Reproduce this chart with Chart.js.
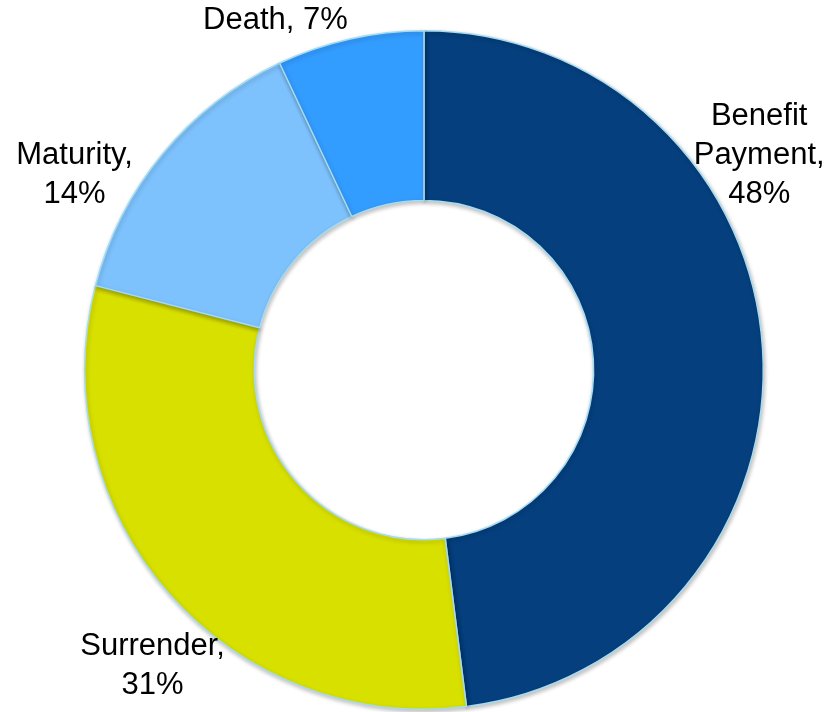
<!DOCTYPE html>
<html>
<head>
<meta charset="utf-8">
<script src="https://cdn.jsdelivr.net/npm/chart.js@4"></script>
<style>
html,body{margin:0;padding:0;background:#fff;}
#wrap{width:831px;height:712px;position:relative;}
</style>
</head>
<body>
<div id="wrap"><canvas id="c" width="831" height="712"></canvas></div>
<script>
const categories = ["Benefit Payment", "Surrender", "Maturity", "Death"];
const values = [48, 31, 14, 7];
const labelLines = [["Benefit", "Payment,", "48%"], ["Surrender,", "31%"], ["Maturity,", "14%"], ["Death, 7%"]];
const colors = ["#053F7D", "#D8E000", "#7DC2FD", "#339CFF"];

// label anchor positions as fractions of the outer radius, relative to the centre
const labelAnchors = [[0.988, -0.632], [-0.800, 0.872], [-1.030, -0.575], [-0.438, -1.030]];

const labelPlugin = {
  id: 'outLabels',
  afterDatasetsDraw(chart) {
    const meta = chart.getDatasetMeta(0);
    const ctx = chart.ctx;
    ctx.save();
    ctx.font = '31px "Liberation Sans", Arial, sans-serif';
    ctx.fillStyle = '#000';
    ctx.textAlign = 'center';
    ctx.textBaseline = 'middle';
    const lh = 39;
    meta.data.forEach((arc, i) => {
      const r = arc.outerRadius;
      const cx = arc.x + labelAnchors[i][0] * r;
      const cy = arc.y + labelAnchors[i][1] * r;
      const lines = labelLines[i];
      const y0 = cy - (lines.length - 1) * lh / 2;
      lines.forEach((t, k) => ctx.fillText(t, cx, y0 + k * lh));
    });
    ctx.restore();
  }
};

const shadowPlugin = {
  id: 'shadow',
  beforeDatasetsDraw(chart) {
    const ctx = chart.ctx;
    ctx.save();
    ctx.shadowColor = 'rgba(0,0,0,0.25)';
    ctx.shadowBlur = 4;
    ctx.shadowOffsetX = 1;
    ctx.shadowOffsetY = 2;
  },
  afterDatasetsDraw(chart) {
    chart.ctx.restore();
  }
};

new Chart(document.getElementById('c'), {
  type: 'doughnut',
  data: {
    labels: categories,
    datasets: [{
      data: values,
      backgroundColor: colors,
      borderColor: '#A6DBF0',
      borderWidth: 1.5
    }]
  },
  options: {
    responsive: false,
    animation: false,
    cutout: '50%',
    rotation: 0,
    layout: { padding: { top: 30, bottom: 2, left: 50, right: 33 } },
    plugins: { legend: { display: false }, tooltip: { enabled: false } }
  },
  plugins: [shadowPlugin, labelPlugin]
});
</script>
</body>
</html>
